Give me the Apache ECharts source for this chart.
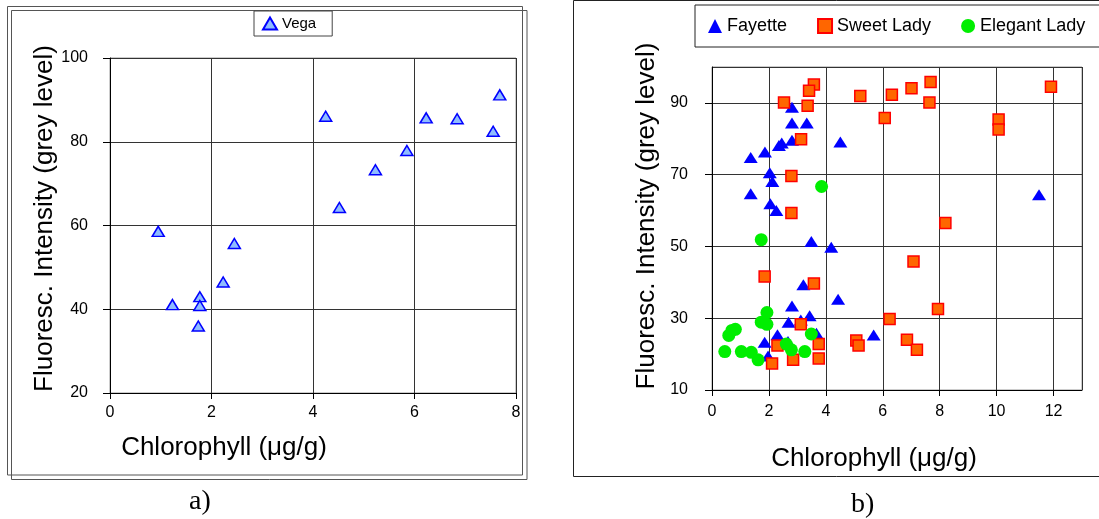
<!DOCTYPE html>
<html>
<head>
<meta charset="utf-8">
<script src="https://cdn.jsdelivr.net/npm/echarts@6/dist/echarts.min.js"></script>
<style>
html,body{margin:0;padding:0;background:#fff;}
#c{width:1099px;height:519px;}
</style>
</head>
<body>
<div id="c"></div>
<script>
// ---- Panel a) Vega ----
var vegaX = [0.95,1.23,1.77,1.77,1.74,2.23,2.45,4.25,4.52,5.23,5.85,6.23,6.84,7.55,7.68];
var vegaY = [58.6,41.1,43.0,40.9,36.0,46.5,55.7,86.1,64.3,73.3,77.9,85.7,85.5,82.5,91.2];

// ---- Panel b) ----
var fayetteX = [2.81,2.81,3.33,2.81,2.35,2.45,4.51,1.86,1.36,2.03,2.12,1.36,2.05,2.26,3.49,4.19,3.21,4.43,2.81,3.43,2.69,3.12,2.30,3.67,1.85,2.67,1.97,5.68,11.49];
var fayetteY = [88.8,84.4,84.4,79.6,78.1,78.8,79.1,76.3,74.8,70.5,68.1,64.7,61.9,60.0,51.4,49.8,39.3,35.3,33.4,30.7,28.9,29.5,25.4,25.8,23.3,23.5,19.5,25.3,64.4];

var sweetX = [3.58,3.41,2.53,3.36,5.21,6.32,7.01,7.68,7.64,6.07,10.07,10.07,11.91,3.13,2.79,2.79,8.20,1.85,3.58,7.08,7.94,6.24,3.12,2.30,3.75,3.75,2.85,2.11,5.07,5.15,6.85,7.20];
var sweetY = [95.1,93.4,90.1,89.2,91.9,92.3,94.1,95.8,90.1,85.8,85.4,82.6,94.5,79.9,69.6,59.3,56.5,41.6,39.7,45.8,32.6,29.8,28.3,22.4,22.8,18.8,18.4,17.4,23.8,22.4,24.0,21.2];

var elegantX = [3.85,1.73,1.93,1.73,1.93,0.70,0.82,0.59,3.49,2.61,2.79,3.26,0.45,1.03,1.38,1.62];
var elegantY = [66.7,51.9,31.6,28.9,28.3,26.6,26.9,25.2,25.6,22.8,21.2,20.7,20.7,20.7,20.5,18.4];

// Axis settings
var xTitle = 'Chlorophyll (\u03bcg/g)';
var yTitle = 'Fluoresc. Intensity (grey level)';

function pairs(xs, ys){ return xs.map(function(x,i){ return [x, ys[i]]; }); }

var FONT = 'Liberation Sans';
var tickLabel = {color:'#000', fontFamily:FONT, fontSize:16};
var chart = echarts.init(document.getElementById('c'), null, {renderer:'canvas'});

chart.setOption({
  animation:false,
  backgroundColor:'#fff',
  title:[
    {text:'a)', left:189, top:488, padding:0, textStyle:{fontFamily:'Liberation Serif', fontSize:28, fontWeight:'normal', color:'#000'}},
    {text:'b)', left:851, top:491, padding:0, textStyle:{fontFamily:'Liberation Serif', fontSize:28, fontWeight:'normal', color:'#000'}}
  ],
  graphic:[
    {type:'rect', shape:{x:7.5, y:6.5, width:515, height:468.5}, style:{fill:null, stroke:'#555', lineWidth:1}, silent:true, z:-1},
    {type:'rect', shape:{x:11.5, y:10.5, width:515.5, height:469}, style:{fill:null, stroke:'#555', lineWidth:1}, silent:true, z:-1},
    {type:'rect', shape:{x:573.5, y:0.5, width:540, height:476}, style:{fill:null, stroke:'#222', lineWidth:1}, silent:true, z:-1}
  ],
  legend:[
    {data:['Vega'], left:254, top:11, orient:'horizontal', padding:[5,16,5,8], borderColor:'#444', borderWidth:1,
     itemWidth:14, itemHeight:12, itemGap:5, textStyle:{fontFamily:FONT, fontSize:15, color:'#000'}},
    {data:['Fayette','Sweet Lady','Elegant Lady'], left:695, top:5, width:480, orient:'horizontal', padding:[12,40,12,13], borderColor:'#222', borderWidth:1,
     itemWidth:14, itemHeight:14, itemGap:30, textStyle:{fontFamily:FONT, fontSize:18, color:'#000'}}
  ],
  grid:[
    {left:110, top:58, width:406, height:335, show:true, borderColor:'#999', borderWidth:1, backgroundColor:'#fff'},
    {left:712, top:67, width:370, height:323, show:true, borderColor:'#999', borderWidth:1, backgroundColor:'#fff'}
  ],
  xAxis:[
    {gridIndex:0, type:'value', min:0, max:8, interval:2,
     axisLine:{show:true, onZero:false, lineStyle:{color:'#000', width:1}},
     axisTick:{show:true, inside:false, length:6, lineStyle:{color:'#000'}},
     axisLabel:{margin:12, ...tickLabel},
     splitLine:{show:true, lineStyle:{color:'#333', width:1}},
     name:xTitle, nameLocation:'middle', nameGap:42,
     nameTextStyle:{fontFamily:FONT, fontSize:26, color:'#000', padding:[0,178,0,0]}},
    {gridIndex:1, type:'value', min:0, max:13, interval:2,
     axisLine:{show:true, onZero:false, lineStyle:{color:'#000', width:1}},
     axisTick:{show:true, inside:false, length:6, lineStyle:{color:'#000'}},
     axisLabel:{margin:14, showMaxLabel:false, ...tickLabel},
     splitLine:{show:true, lineStyle:{color:'#333', width:1}},
     name:xTitle, nameLocation:'middle', nameGap:56,
     nameTextStyle:{fontFamily:FONT, fontSize:26, color:'#000', padding:[0,46,0,0]}}
  ],
  yAxis:[
    {gridIndex:0, type:'value', min:20, max:100, interval:20,
     axisLine:{show:true, onZero:false, lineStyle:{color:'#000', width:1}},
     axisTick:{show:true, inside:false, length:7, lineStyle:{color:'#000'}},
     axisLabel:{margin:22, ...tickLabel},
     splitLine:{show:true, lineStyle:{color:'#333', width:1}},
     name:yTitle, nameLocation:'middle', nameGap:52,
     nameTextStyle:{fontFamily:FONT, fontSize:26, color:'#000', padding:[0,0,0,14]}},
    {gridIndex:1, type:'value', min:10, max:100, interval:20,
     axisLine:{show:true, onZero:false, lineStyle:{color:'#000', width:1}},
     axisTick:{show:true, inside:false, length:7, lineStyle:{color:'#000'}},
     axisLabel:{margin:24, showMaxLabel:false, ...tickLabel},
     splitLine:{show:true, lineStyle:{color:'#333', width:1}},
     name:yTitle, nameLocation:'middle', nameGap:52,
     nameTextStyle:{fontFamily:FONT, fontSize:26, color:'#000', padding:[0,0,0,25]}}
  ],
  series:[
    {name:'Vega', type:'scatter', xAxisIndex:0, yAxisIndex:0, symbol:'triangle', symbolSize:[12,10],
     itemStyle:{color:'#8fbcff', borderColor:'#0000ff', borderWidth:1.5, opacity:1},
     data:pairs(vegaX, vegaY)},
    {name:'Fayette', type:'scatter', xAxisIndex:1, yAxisIndex:1, symbol:'triangle', symbolSize:[14,11],
     itemStyle:{color:'#0000ff', opacity:1},
     data:pairs(fayetteX, fayetteY)},
    {name:'Sweet Lady', type:'scatter', xAxisIndex:1, yAxisIndex:1, symbol:'rect', symbolSize:11,
     itemStyle:{color:'#ff6600', borderColor:'#ff0000', borderWidth:1.5, opacity:1},
     data:pairs(sweetX, sweetY)},
    {name:'Elegant Lady', type:'scatter', xAxisIndex:1, yAxisIndex:1, symbol:'circle', symbolSize:13,
     itemStyle:{color:'#00ee00', opacity:1},
     data:pairs(elegantX, elegantY)}
  ]
});
</script>
</body>
</html>
